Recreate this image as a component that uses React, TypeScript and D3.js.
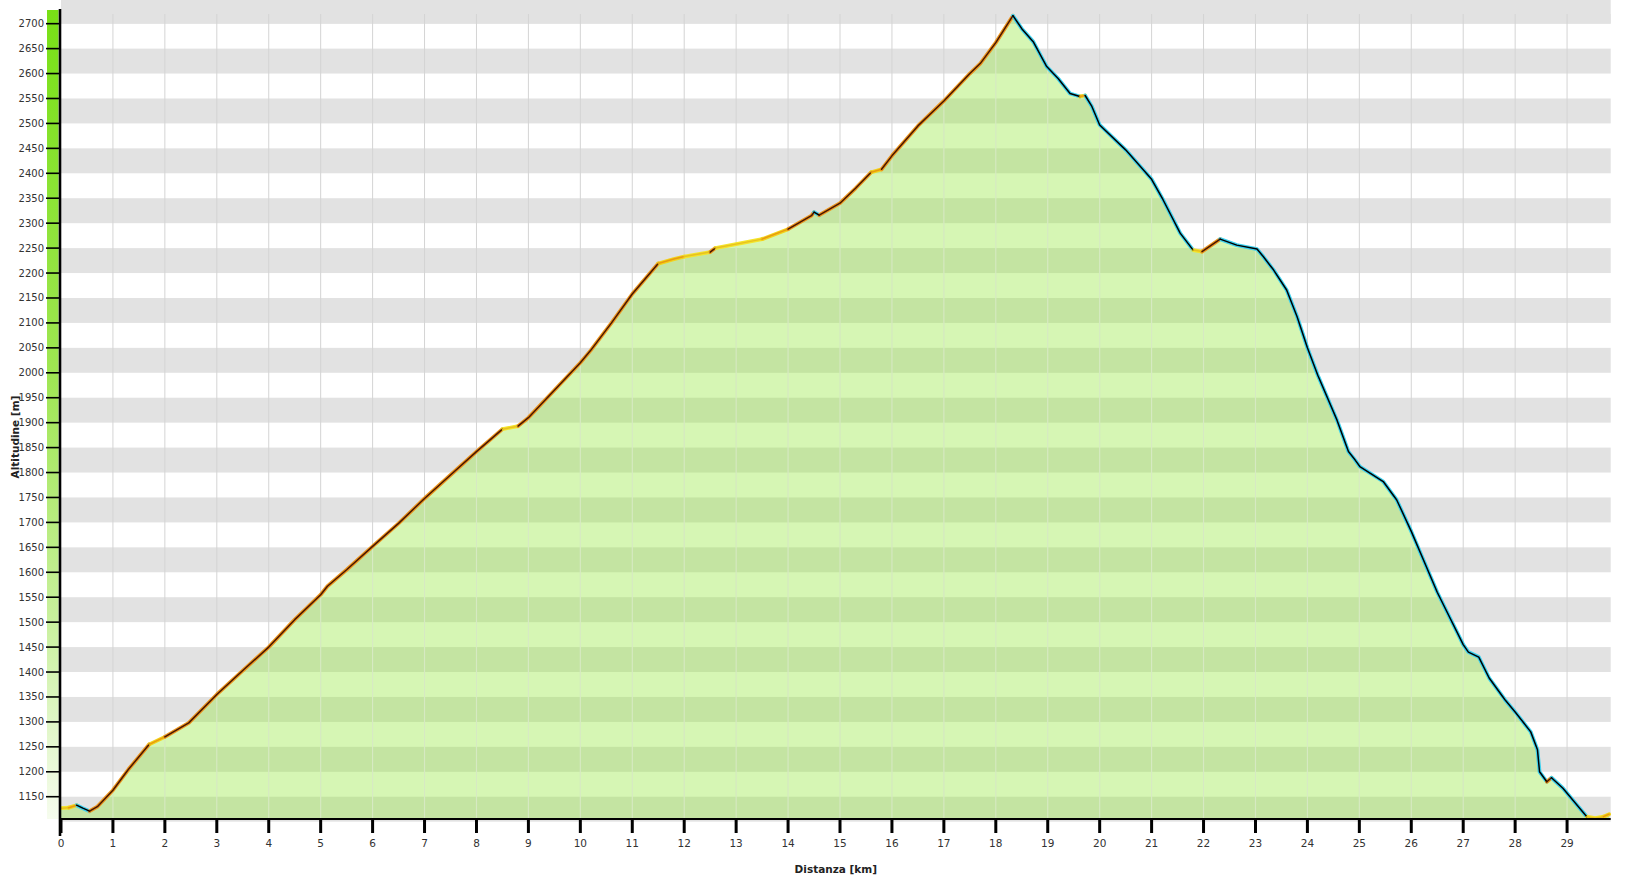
import * as d3 from 'd3';

// elevation profile (km, m)
const distKm = [
  0, 0.15, 0.3, 0.42, 0.55, 0.7, 1.0, 1.3, 1.7, 2.0, 2.46, 3.0, 3.5, 4.0, 4.5, 5.0, 5.13, 5.5,
  6.0, 6.5, 7.0, 7.5, 8.0, 8.5, 8.8, 9.0, 9.5, 10.0, 10.2, 10.6, 11.0, 11.5, 11.8, 12.0, 12.5,
  12.6, 13.0, 13.5, 14.0, 14.45, 14.5, 14.6, 15.0, 15.3, 15.6, 15.8, 16.0, 16.5, 17.0, 17.5,
  17.7, 18.0, 18.33, 18.5, 18.72, 18.98, 19.2, 19.43, 19.62, 19.72, 19.85, 20.0, 20.5, 21.0,
  21.22, 21.55, 21.8, 21.97, 22.32, 22.64, 23.03, 23.15, 23.35, 23.6, 23.8, 24.0, 24.2, 24.57,
  24.79, 24.92, 25.01, 25.46, 25.72, 26.0, 26.5, 27.0, 27.1, 27.3, 27.5, 27.8, 28.0, 28.3,
  28.43, 28.47, 28.61, 28.7, 28.92, 29.38, 29.54, 29.7, 29.81,
];
const altM = [
  1127, 1128, 1133, 1127, 1121, 1130, 1163, 1205, 1255, 1270, 1298, 1355, 1403, 1450, 1505, 1555, 1572, 1605,
  1652, 1698, 1748, 1795, 1842, 1887, 1893, 1910, 1965, 2020, 2045, 2100, 2158, 2219, 2228, 2233, 2242,
  2250, 2258, 2268, 2288, 2315, 2322, 2316, 2340, 2370, 2402, 2408, 2435, 2495, 2545, 2600,
  2620, 2662, 2716, 2690, 2664, 2614, 2590, 2560, 2554, 2556, 2534, 2497, 2447, 2388,
  2347, 2280, 2246, 2243, 2268, 2256, 2248, 2233, 2206, 2166, 2113, 2050, 1995, 1905,
  1842, 1825, 1812, 1782, 1745, 1682, 1560, 1455, 1440, 1430, 1388, 1345, 1320, 1280,
  1244, 1200, 1180, 1188, 1167, 1110, 1107, 1110, 1115,
];

const xTicks = d3.range(0, 30);
const yTicks = d3.range(1150, 2701, 50);
const bandStarts = d3.range(1100, 2750, 100); // grey bands [v, v+50]

const W = 1638;
const H = 877;
const left = 61;
const right = 1610.7;
const top = 14;
const bottom = 819;

const font = 'DejaVu Sans, Verdana, sans-serif';

type Pt = { d: number; a: number };

function slopeClass(p: Pt, q: Pt) {
  const g = (q.a - p.a) / ((q.d - p.d) * 1000);
  if (g > 0.05) return 'up';
  if (g > 0.02) return 'mild';
  if (g >= -0.02) return 'flat';
  return 'down';
}

const lineStyle: Record<string, { outer: string; inner: string }> = {
  up: { outer: '#eb961e', inner: '#4a1600' },
  mild: { outer: '#f2d21a', inner: '#e89a10' },
  flat: { outer: '#f4e42a', inner: '#e8c020' },
  down: { outer: '#3cd0ee', inner: '#000000' },
};

export default function App() {
  const x = d3.scaleLinear().domain([0, 29.84]).range([left, right]);
  const y = d3.scaleLinear().domain([1105.3, 2719.4]).range([bottom, top]);

  const pts: Pt[] = distKm.map((d, i) => ({ d, a: altM[i] }));

  const area = d3.area<Pt>()
    .x(p => x(p.d))
    .y0(bottom)
    .y1(p => y(p.a));
  const line = d3.line<Pt>().x(p => x(p.d)).y(p => y(p.a));

  // group consecutive segments of the same slope class
  const runs: { cls: string; pts: Pt[] }[] = [];
  for (let i = 0; i < pts.length - 1; i++) {
    const cls = slopeClass(pts[i], pts[i + 1]);
    const last = runs[runs.length - 1];
    if (last && last.cls === cls) last.pts.push(pts[i + 1]);
    else runs.push({ cls, pts: [pts[i], pts[i + 1]] });
  }

  const areaPath = area(pts) || '';

  return (
    <svg width={W} height={H} style={{ position: 'absolute', left: 0, top: 0, background: '#fff' }}>
      <defs>
        <linearGradient id="slopeBar" x1="0" y1="0" x2="0" y2="1">
          <stop offset="0" stopColor="#78e016" />
          <stop offset="0.45" stopColor="#9fe653" />
          <stop offset="0.75" stopColor="#c8f09c" />
          <stop offset="1" stopColor="#f6fcee" />
        </linearGradient>
        <clipPath id="areaClip">
          <path d={areaPath} />
        </clipPath>
      </defs>

      {/* grey / white bands */}
      <rect x={left} y={top} width={right - left} height={y(2700) - top} fill="#e2e2e2" />
      {bandStarts.map(v => (
        <rect key={v} x={left} y={y(v + 50)} width={right - left} height={y(v) - y(v + 50)} fill="#e2e2e2" />
      ))}

      {/* vertical grid */}
      {xTicks.slice(1).map(t => (
        <line key={t} x1={x(t)} x2={x(t)} y1={top} y2={bottom} stroke="#d4d4d4" strokeWidth={1} />
      ))}

      {/* profile area */}
      <path d={areaPath} fill="rgb(144,231,52)" fillOpacity={0.37} />
      <g clipPath="url(#areaClip)">
        {xTicks.slice(1).map(t => (
          <line key={t} x1={x(t)} x2={x(t)} y1={top} y2={bottom} stroke="#ffffff" strokeOpacity={0.4} strokeWidth={1.2} />
        ))}
      </g>

      {/* profile line coloured by slope */}
      {runs.map((r, i) => (
        <path key={'o' + i} d={line(r.pts) || ''} fill="none" stroke={lineStyle[r.cls].outer}
          strokeWidth={3.8} strokeLinejoin="round" strokeLinecap="round" />
      ))}
      {runs.map((r, i) => (
        <path key={'i' + i} d={line(r.pts) || ''} fill="none" stroke={lineStyle[r.cls].inner}
          strokeWidth={1.5} strokeLinejoin="round" strokeLinecap="round" />
      ))}

      {/* slope colour bar */}
      <rect x={47} y={10} width={11.5} height={bottom - 10} fill="url(#slopeBar)" />

      {/* y axis */}
      <line x1={60} x2={60} y1={9} y2={836} stroke="#000" strokeWidth={2.6} />
      {yTicks.map(t => (
        <g key={t}>
          <line x1={46} x2={60} y1={y(t)} y2={y(t)} stroke="#000" strokeWidth={1.6} />
          <text x={44} y={y(t)} dy="0.35em" textAnchor="end" fontFamily={font} fontSize={10} fill="#333">
            {t}
          </text>
        </g>
      ))}
      <text transform={`translate(19,${437}) rotate(-90)`} textAnchor="middle" fontFamily={font}
        fontSize={10.5} fontWeight="bold" fill="#222">
        Altitudine [m]
      </text>

      {/* x axis */}
      <line x1={59} x2={right} y1={bottom} y2={bottom} stroke="#000" strokeWidth={2.2} />
      {xTicks.map(t => (
        <g key={t}>
          <line x1={x(t)} x2={x(t)} y1={bottom} y2={833} stroke="#000" strokeWidth={3} />
          <text x={x(t)} y={847} textAnchor="middle" fontFamily={font} fontSize={10.5} fill="#333">
            {t}
          </text>
        </g>
      ))}
      <text x={(left + right) / 2} y={873} textAnchor="middle" fontFamily={font} fontSize={10.5}
        fontWeight="bold" fill="#222">
        Distanza [km]
      </text>
    </svg>
  );
}
